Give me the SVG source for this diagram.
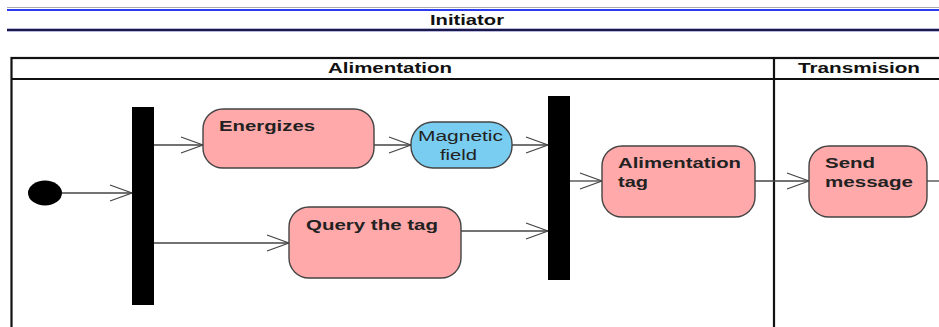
<svg xmlns="http://www.w3.org/2000/svg" width="939" height="327" viewBox="0 0 939 327">
<style>
.bg{fill:#ffffff}
.lane{fill:none;stroke:#111;stroke-width:2.2}
.hdr{font-family:"Liberation Sans",Arial,sans-serif;font-weight:bold;font-size:14px;fill:#111}
.act{fill:#ffa9aa;stroke:#444;stroke-width:1.4}
.obj{fill:#79cdf1;stroke:#444;stroke-width:1.4}
.lbl{font-family:"Liberation Sans",Arial,sans-serif;font-weight:bold;font-size:15px;fill:#222}
.olbl{font-family:"Liberation Sans",Arial,sans-serif;font-size:14px;fill:#222}
.bar{fill:#000}
.edge{fill:none;stroke:#444;stroke-width:1.3}
</style>
<defs>
<marker id="open" viewBox="0 0 24 18" markerWidth="24" markerHeight="18" refX="23" refY="9" orient="auto" markerUnits="userSpaceOnUse">
<path d="M1,1 L23,9 L1,17" fill="none" stroke="#444" stroke-width="1.3"/>
</marker>
</defs>
<rect class="bg" x="0" y="0" width="939" height="327"/>
<g id="partition-initiator">
<line x1="7" y1="7.5" x2="939" y2="7.5" stroke="#aaa" stroke-width="1"/>
<line x1="7" y1="10" x2="939" y2="10" stroke="#2b3cf0" stroke-width="2"/>
<line x1="7" y1="30" x2="939" y2="30" stroke="#bbb8e0" stroke-width="4"/>
<line x1="7" y1="30" x2="939" y2="30" stroke="#1a1a4a" stroke-width="2"/>
<text class="hdr" x="430" y="25" textLength="74" lengthAdjust="spacingAndGlyphs">Initiator</text>
</g>
<g id="lanes">
<rect class="lane" x="11.5" y="58" width="940" height="290"/>
<line class="lane" x1="11.5" y1="79" x2="939" y2="79"/>
<line class="lane" x1="774" y1="58" x2="774" y2="327" stroke-width="3"/>
<text class="hdr" x="328" y="73" textLength="124" lengthAdjust="spacingAndGlyphs">Alimentation</text>
<text class="hdr" x="798" y="73" textLength="122" lengthAdjust="spacingAndGlyphs">Transmision</text>
</g>
<g id="connectors">
<line class="edge" x1="62" y1="193" x2="132" y2="193" marker-end="url(#open)"/>
<line class="edge" x1="154" y1="145" x2="203" y2="145" marker-end="url(#open)"/>
<line class="edge" x1="154" y1="243" x2="289" y2="243" marker-end="url(#open)"/>
<line class="edge" x1="374" y1="145" x2="411" y2="145" marker-end="url(#open)"/>
<line class="edge" x1="512" y1="145" x2="548" y2="145" marker-end="url(#open)"/>
<line class="edge" x1="461" y1="231" x2="548" y2="231" marker-end="url(#open)"/>
<line class="edge" x1="570" y1="181" x2="602" y2="181" marker-end="url(#open)"/>
<line class="edge" x1="755" y1="181" x2="809" y2="181" marker-end="url(#open)"/>
<line class="edge" x1="927" y1="181" x2="939" y2="181"/>
</g>
<g id="initial">
<ellipse cx="45" cy="193" rx="17" ry="12.5" fill="#000"/>
</g>
<g id="fork1">
<rect class="bar" x="132" y="107" width="22" height="198"/>
</g>
<g id="energizes">
<rect class="act" x="203" y="109" width="171" height="59" rx="20" ry="20"/>
<text class="lbl" x="219" y="131" textLength="96" lengthAdjust="spacingAndGlyphs">Energizes</text>
</g>
<g id="magnetic-field">
<rect class="obj" x="411" y="122" width="101" height="46" rx="22" ry="22"/>
<text class="olbl" x="418" y="141" textLength="85" lengthAdjust="spacingAndGlyphs">Magnetic</text>
<text class="olbl" x="440" y="160" textLength="37" lengthAdjust="spacingAndGlyphs">field</text>
</g>
<g id="query">
<rect class="act" x="289" y="207" width="172" height="71" rx="20" ry="20"/>
<text class="lbl" x="306" y="230" textLength="132" lengthAdjust="spacingAndGlyphs">Query the tag</text>
</g>
<g id="fork2">
<rect class="bar" x="548" y="96" width="22" height="184"/>
</g>
<g id="alimentation-tag">
<rect class="act" x="602" y="146" width="153" height="71" rx="20" ry="20"/>
<text class="lbl" x="618" y="168" textLength="123" lengthAdjust="spacingAndGlyphs">Alimentation</text>
<text class="lbl" x="618" y="187" textLength="30" lengthAdjust="spacingAndGlyphs">tag</text>
</g>
<g id="send-message">
<rect class="act" x="809" y="146" width="118" height="71" rx="20" ry="20"/>
<text class="lbl" x="825" y="168" textLength="50" lengthAdjust="spacingAndGlyphs">Send</text>
<text class="lbl" x="825" y="187" textLength="88" lengthAdjust="spacingAndGlyphs">message</text>
</g>
</svg>
